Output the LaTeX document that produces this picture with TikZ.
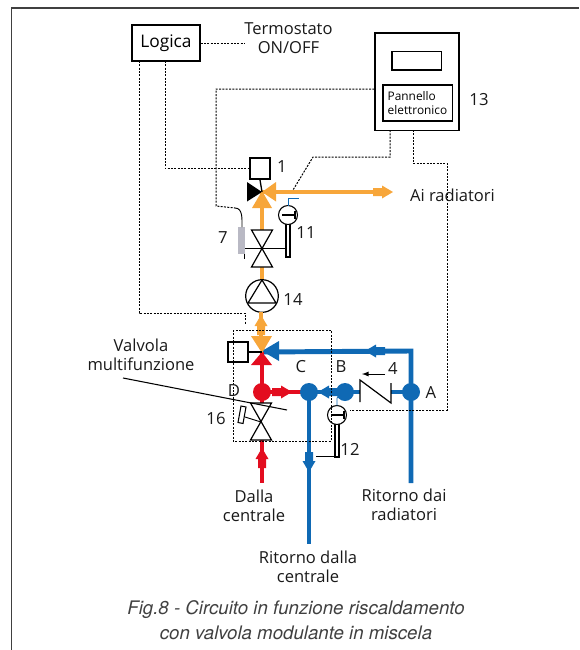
\documentclass[tikz,border=0pt]{standalone}
\usepackage{fontspec}
\setmainfont{Open Sans}
\newfontfamily\figfont{TeX Gyre Heros}
\usetikzlibrary{calc, arrows}
\definecolor{caldo}{HTML}{E30D1F}
\definecolor{ritorno}{HTML}{0F69B4}
\definecolor{misto}{HTML}{F7A63A}
\definecolor{sonda}{HTML}{B9B9C4}
\tikzset{
    pipe/.style={line width=3.7pt},
    wire/.style={line width=0.75pt, dash pattern=on 1.5pt off 1pt},
    label/.style={font=\fontsize{12.4}{14.5}\selectfont, inner sep=0pt, text=black!90},
    numero/.style={font=\fontsize{12.5}{14}\selectfont, inner sep=0pt, text=black!90},
    dot/.style={circle, inner sep=0pt, minimum size=13.5pt}
}
% freccia sul tubo: colore, punta x, punta y, angolo
\newcommand{\flecha}[4]{\fill[#1, shift={(#2,#3)}, rotate=#4] (0,0) -- (-11,6.5) -- (-11,4) -- (-20,4) -- (-20,-4) -- (-11,-4) -- (-11,-6.5) -- cycle;}
\begin{document}
\begin{tikzpicture}[x=0.75pt, y=-0.75pt]
    \useasboundingbox (0,0) rectangle (579,650);
    \draw[line width=0.9pt, black!75] (11.5,650) -- (11.5,8) -- (579,8);

    % nodi principali
    \node[draw, line width=1pt, minimum width=51pt, minimum height=27pt, inner sep=0pt, font=\fontsize{13}{15}\selectfont] (logica) at (166,43) {Logica};
    \node[label, align=center] (termo) at (288.5,38) {Termostato\\ ON/OFF};
    \node[draw, line width=1pt, minimum width=63pt, minimum height=73pt, inner sep=0pt] (quadro) at (417,81.5) {};
    \node[draw, line width=1pt, minimum width=37pt, minimum height=14pt, inner sep=0pt] (display) at (416.5,60.5) {};
    \node[draw, line width=1pt, minimum width=52pt, minimum height=27pt, inner sep=0pt, align=left, font=\fontsize{8.9}{10}\selectfont] (pannello) at (417.5,103) {Pannello\\ elettronico};
    \node[numero] (n13) at (479,100) {13};
    \node[draw, line width=1.5pt, minimum size=15.5pt, inner sep=0pt] (att1) at (260,168.5) {};
    \node[draw, line width=1.5pt, minimum size=15.5pt, inner sep=0pt] (att2) at (238,352) {};
    \coordinate (mix1) at (262,192);
    \coordinate (mix2) at (262,352);
    \node[draw, line width=0.9pt, circle, minimum size=24.5pt, inner sep=0pt] (pompa) at (262,296) {};

    % tubi
    \draw[pipe, misto] (mix1) -- (380,192);
    \draw[pipe, misto] (mix1) -- (262,232);
    \draw[pipe, misto] (262,265) -- (pompa.north);
    \draw[pipe, misto] (261,312) -- (261,340);
    \coordinate (puntoA) at (411,392);
    \coordinate (puntoB) at (345,392);
    \coordinate (puntoC) at (309,392);
    \coordinate (puntoD) at (262,392);
    \draw[pipe, ritorno] (411,483) -- (puntoA) -- (411,351) -- (mix2);
    \draw[pipe, ritorno] (puntoC) -- (puntoA);
    \draw[pipe, ritorno] (puntoC) -- (309,544);
    \draw[pipe, caldo] (mix2) -- (puntoD) -- (puntoC);
    \draw[pipe, caldo] (puntoD) -- (262,405);
    \draw[pipe, caldo] (262,439) -- (262,483);

    % punti e frecce
    \node[dot, fill=caldo] (dotD) at (puntoD) {};
    \node[dot, fill=ritorno] (dotC) at (puntoC) {};
    \node[dot, fill=ritorno] (dotB) at (puntoB) {};
    \node[dot, fill=ritorno] (dotA) at (puntoA) {};
    \flecha{misto}{393}{192}{0}
    \flecha{misto}{261}{315}{90}
    \flecha{caldo}{292}{392}{0}
    \flecha{ritorno}{318}{392}{180}
    \flecha{ritorno}{365}{351}{180}
    \flecha{ritorno}{309}{472}{-90}
    \flecha{caldo}{262}{448}{90}

    % valvole a tre vie
    \fill (247,182) -- (262,192) -- (247,201.5) -- cycle;
    \fill[misto] (276,182) -- (262,192) -- (276,201.5) -- cycle;
    \fill[misto] (252,208) -- (262,191) -- (272,208) -- cycle;
    \draw[line width=1pt] (att1.south) -- (mix1);
    \fill[caldo] (251,365) -- (262,352) -- (272,365) -- cycle;
    \fill[ritorno] (279,341) -- (262,351) -- (279,361) -- cycle;
    \fill[misto] (251,336) -- (272,336) -- (262,353) -- cycle;
    \draw[line width=1.3pt] (att2.east) -- (mix2);

    % valvole e pompa
    \foreach \vx/\vy in {262/230, 261/403} {
        \draw[fill=white, line width=0.9pt] (\vx-10.5,\vy) -- (\vx+10.5,\vy) -- (\vx-10.5,\vy+37) -- (\vx+10.5,\vy+37) -- cycle;
    }
    \draw[line width=0.9pt] (248,303) -- (276,303) -- (262,280) -- cycle;

    % termometri
    \foreach \tx/\ty in {288/215, 337/415} {
        \draw[line width=0.8pt, fill=white] (\tx-2,\ty+9) rectangle (\tx+2,\ty+42);
        \draw[line width=0.8pt, fill=white] (\tx,\ty) circle[radius=9.5];
        \draw[line width=1.2pt] (\tx-6,\ty) -- (\tx+7,\ty);
        \draw[line width=1.2pt] (\tx+7,\ty-4) -- (\tx+7,\ty+4);
    }
    \draw[line width=0.6pt, ritorno] (288,205.5) -- (288,198) -- (299,198);
    \draw[line width=0.6pt, ritorno] (337,405.5) -- (337,398) -- (340,396);
    \draw[line width=0.7pt] (245,248) -- (286,248);
    \draw[line width=0.7pt] (316,456) -- (335,456);

    % sonda e servocomando
    \fill[sonda] (238,227) rectangle (245,254);
    \draw[line width=0.7pt] (244,254) -- (244,259);
    \draw[line width=0.7pt] (235,208) to[out=0,in=90] (242,227);
    \draw[line width=0.8pt, fill=white] (241,406) -- (246,407) -- (243,423.5) -- (238,422.5) -- cycle;
    \draw[line width=0.7pt] (245,417) -- (261,422);

    % valvola di non ritorno
    \fill[white] (360,380) rectangle (391,403);
    \draw[line width=0.9pt] (360,402) -- (360,380) -- (391,403) -- (391,383);
    \draw[-latex, line width=0.7pt] (385,374) -- (362,374);

    % linee elettriche
    \draw[wire] (logica.east) -- (termo.west |- logica.east);
    \draw[wire] (139,61) -- (139,313) -- (245,313) -- (245,325);
    \draw[wire] (165,61) |- (att1.west);
    \draw[wire] (quadro.west |- 0,89) -- (216,89) -- (216,206) -- (235,208);
    \draw[wire] (390,130) -- (390,157) -- (313,157) -- (293,190);
    \draw[wire] (413,130) -- (413,163) -- (447,163) -- (447,410) -- (350,410);
    \draw[wire] (233,330) rectangle (331,441);

    % leader
    \node[label, align=center] (valvola) at (141,354.5) {Valvola\\ multifunzione};
    \draw[line width=0.8pt] (123,378) -- (287,410);

    % testi
    \node[numero] (n1) at (282,167) {1};
    \node[numero] (n7) at (223,238) {7};
    \node[numero] (n11) at (306,233) {11};
    \node[numero] (n14) at (293,300) {14};
    \node[numero] (n4) at (393,369) {4};
    \node[numero] (n16) at (216,419) {16};
    \node[numero] (n12) at (350,449) {12};
    \node[numero] (lettA) at (431,393) {A};
    \node[numero] (lettB) at (341,367) {B};
    \node[numero] (lettC) at (301,367) {C};
    \node[numero] (lettD) at (234,391) {D};
    \node[label] (airad) at (452.5,195) {Ai radiatori};
    \node[label, align=center] (dalla) at (254,506) {Dalla\\ centrale};
    \node[label, align=center] (ritdai) at (404,505) {Ritorno dai\\ radiatori};
    \node[label, align=center] (ritdalla) at (308,566.5) {Ritorno dalla\\ centrale};
    \node[align=center, inner sep=0pt, text=black!75, font=\figfont\itshape\fontsize{14}{19}\selectfont] (dida) at (296,620) {Fig.8 - Circuito in funzione riscaldamento\\ con valvola modulante in miscela};
\end{tikzpicture}
\end{document}
